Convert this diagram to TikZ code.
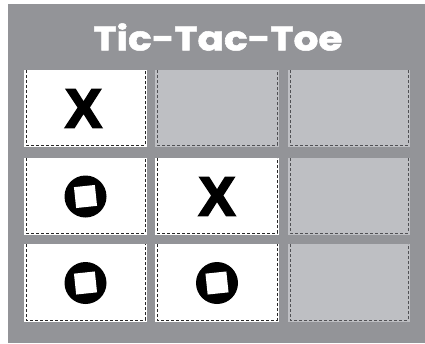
\documentclass[tikz,border=0pt]{standalone}
\usepackage{fontspec}
\setmainfont{Liberation Sans}
\newfontfamily\titlefont[FakeBold=1.5]{Poppins}
\newfontfamily\xfont[FakeBold=3.5]{Liberation Sans}
\definecolor{bggray}{RGB}{147,148,152}
\definecolor{cellgray}{RGB}{190,191,195}
\definecolor{dashdark}{RGB}{40,40,40}
\definecolor{dashgray}{RGB}{80,80,84}
\tikzset{
  cellwhite/.style={fill=white, draw=none},
  cellgrey/.style={fill=cellgray, draw=none},
  edgedash/.style={draw=#1, line width=0.8pt, dash pattern=on 3pt off 2pt},
  xmark/.style={font=\xfont\fontsize{55}{55}\bfseries\selectfont, text=black, inner sep=0pt},
}
\newcommand{\cellbox}[6]{% name, x0, y0, x1, y1, style
  \path[#6] (#2,#3) rectangle (#4,#5);
  \coordinate (#1) at ({(#2+#4)/2},{(#3+#5)/2});
}
\newcommand{\celledge}[5]{% x0,y0,x1,y1,color
  \draw[edgedash=#5] ({#1+2},#2) -- ({#1+2},{#4-2}) -- ({#3-2},{#4-2}) -- ({#3-2},#2);
}
\newcommand{\omark}[1]{%
  \fill[black] (#1) circle (21);
  \fill[white, rotate around={6:(#1)}] ($(#1)+(-10.5,-10.5)$) rectangle ($(#1)+(10.5,10.5)$);
}
\usetikzlibrary{calc}
\begin{document}
\begin{tikzpicture}[x=1pt,y=-1pt]
\useasboundingbox (0,0) rectangle (425,343);
\fill[white] (0,0) rectangle (425,343);
\fill[bggray] (8,4) rectangle (425,343);
\node[text=white, inner sep=0pt, xscale=1.15] (title) at (218,37) {\titlefont\fontsize{34}{34}\bfseries\selectfont Tic-Tac-Toe};
% row 1
\cellbox{c11}{24}{70}{147}{147}{cellwhite}
\celledge{24}{70}{147}{147}{dashdark}
\cellbox{c12}{155}{70}{279}{147}{cellgrey}
\celledge{155}{70}{279}{147}{dashgray}
\cellbox{c13}{288}{70}{410}{147}{cellgrey}
\celledge{288}{70}{410}{147}{dashgray}
% row 2
\cellbox{c21}{24}{158}{147}{235}{cellwhite}
\celledge{24}{158}{147}{235}{dashdark}
\cellbox{c22}{155}{158}{279}{235}{cellwhite}
\celledge{155}{158}{279}{235}{dashdark}
\cellbox{c23}{288}{158}{410}{235}{cellgrey}
\celledge{288}{158}{410}{235}{dashgray}
% row 3
\cellbox{c31}{24}{244}{147}{322}{cellwhite}
\celledge{24}{244}{147}{322}{dashdark}
\cellbox{c32}{155}{244}{279}{322}{cellwhite}
\celledge{155}{244}{279}{322}{dashdark}
\cellbox{c33}{288}{244}{410}{322}{cellgrey}
\celledge{288}{244}{410}{322}{dashgray}
% marks
\node[xmark] (x11) at ($(c11)+(-2,0)$) {X};
\node[xmark] (x22) at ($(c22)+(0,0)$) {X};
\omark{c21}
\omark{c31}
\omark{c32}
\end{tikzpicture}
\end{document}
